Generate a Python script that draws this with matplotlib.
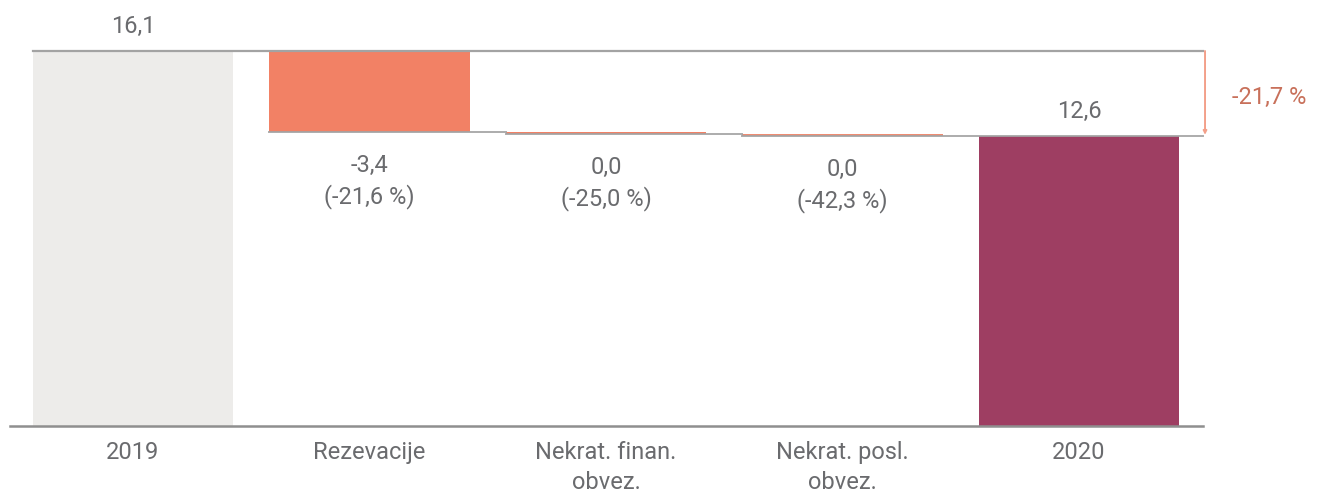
import matplotlib.pyplot as plt
import matplotlib.transforms as mtransforms

# chart values
categories = ['2019', 'Rezevacije', 'Nekrat. finan.\nobvez.', 'Nekrat. posl.\nobvez.', '2020']
start_value = 16.1
deltas = [-3.48, -0.07, -0.10]
end_value = 12.45
value_labels = ['16,1', '-3,4\n(-21,6 %)', '0,0\n(-25,0 %)', '0,0\n(-42,3 %)', '12,6']
total_change_label = '-21,7 %'

plt.rcParams['font.family'] = ['Roboto', 'DejaVu Sans']
TXT = '#6a6b6e'
LINE = '#a3a3a3'
FS = 17

fig = plt.figure(figsize=(13.2, 4.94), dpi=100)
ax = fig.add_axes([10 / 1320, 68 / 494, 1193 / 1320, 375 / 494])

w = 0.846
x = list(range(len(categories)))

# totals
ax.bar(x[0], start_value, width=w, color='#edecea', zorder=1)
ax.bar(x[-1], end_value, width=w, color='#9e3e62', zorder=1)

# changes
level = start_value
levels = [start_value]
delta_colors = ['#f28165', '#f28165', '#ef8c72']
for i, d in enumerate(deltas):
    ax.bar(x[i + 1], d, bottom=level, width=w, color=delta_colors[i], zorder=1)
    level = level + d
    levels.append(level)

# connector lines
ax.plot([x[0] - w / 2, 4.524], [start_value, start_value], color=LINE, lw=1.6, zorder=2, clip_on=False)
for i in range(1, len(levels)):
    x_end = x[i + 1] - w / 2 if i < len(levels) - 1 else 4.524
    ax.plot([x[i] - w / 2, x_end], [levels[i], levels[i]], color=LINE, lw=1.4,
            alpha=0.9, zorder=2, clip_on=False)

# baseline
ax.axhline(0, color='#8f8f8f', lw=1.8, zorder=3, clip_on=False)

# value labels
ax.annotate(value_labels[0], (x[0], start_value), xytext=(0, 18), textcoords='offset points',
            ha='center', va='center', fontsize=FS, color=TXT, annotation_clip=False)
ax.annotate(value_labels[-1], (x[-1], end_value), xytext=(0, 18), textcoords='offset points',
            ha='center', va='center', fontsize=FS, color=TXT, annotation_clip=False)
for i in range(len(deltas)):
    ax.annotate(value_labels[i + 1], (x[i + 1], levels[i + 1]), xytext=(0, -16),
                textcoords='offset points', ha='center', va='top', fontsize=FS, color=TXT,
                linespacing=1.35, annotation_clip=False)

# total change bracket
trans = mtransforms.blended_transform_factory(ax.transAxes, ax.transData)
ax.annotate('', xy=(1.0017, end_value + 0.05), xytext=(1.0017, start_value),
            xycoords=trans, textcoords=trans,
            arrowprops=dict(arrowstyle='-|>', color='#f3a08a', lw=1.4, mutation_scale=5,
                            shrinkA=0, shrinkB=0),
            annotation_clip=False)
ax.text(1.0243, (start_value + end_value) / 2 - 0.15, total_change_label, transform=trans,
        ha='left', va='center', fontsize=FS, color='#c8705a')

ax.set_xlim(-0.52, 4.524)
ax.set_ylim(0, 16.1)
ax.set_xticks(x)
ax.set_xticklabels(categories, fontsize=FS, color=TXT, linespacing=1.35)
ax.tick_params(axis='x', length=0, pad=11)
ax.set_yticks([])
for s in ax.spines.values():
    s.set_visible(False)

fig.savefig('out.png', dpi=100)
